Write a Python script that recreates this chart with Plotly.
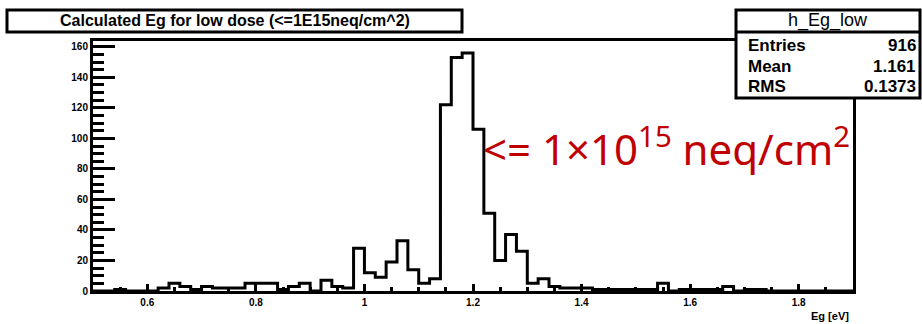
import plotly.graph_objects as go

# ---- data ----
x_min = 0.5
x_max = 1.9
bin_width = 0.02
counts = [0, 0, 1, 0, 0, 0, 2, 5, 3, 1,
          3, 2, 2, 2, 5, 5, 5, 1, 3, 5,
          0, 7, 3, 2, 28, 12, 9, 19, 33, 14,
          5, 8, 122, 153, 156, 106, 51, 20, 37, 26,
          5, 8, 3, 2, 2, 2, 1, 1, 1, 1,
          1, 1, 5, 0, 1, 1, 1, 1, 3, 0,
          1, 1, 0, 0, 0, 0, 0, 0, 0, 0]
x_ticks = [0.6, 0.8, 1.0, 1.2, 1.4, 1.6, 1.8]
x_tick_labels = ["0.6", "0.8", "1", "1.2", "1.4", "1.6", "1.8"]
y_ticks = [0, 20, 40, 60, 80, 100, 120, 140, 160]
title_text = "Calculated Eg for low dose (<=1E15neq/cm^2)"
stats_name = "h_Eg_low"
stats_rows = [("Entries", "916"), ("Mean", "1.161"), ("RMS", "0.1373")]
x_title = "Eg [eV]"
note_text = "<= 1×10<sup>15</sup> neq/cm<sup>2</sup>"

# ---- step outline built from the bins ----
edges = [x_min + i * bin_width for i in range(len(counts) + 1)]
step_x = [edges[0]] + edges[:-1] + [edges[-1], edges[-1]]
step_y = [0] + counts + [counts[-1], 0]

W, H = 922, 324
L, R, T, B = 93, 853, 41, 291


def xp(px):
    return (px - L) / (R - L)


def yp(py):
    return (B - py) / (B - T)


fig = go.Figure()
fig.add_trace(go.Scatter(x=step_x, y=step_y, mode="lines",
                         line=dict(color="black", width=3, shape="hv"),
                         hoverinfo="skip", showlegend=False))

tickfont = dict(family="Liberation Sans", size=10, color="black", weight="bold")
fig.update_xaxes(range=[x_min, x_max], showgrid=False, zeroline=False,
                 showline=True, linecolor="black", linewidth=3, mirror=True,
                 ticks="inside", ticklen=7, tickwidth=2.5, tickcolor="black",
                 tickvals=x_ticks, ticktext=x_tick_labels, tickfont=tickfont,
                 minor=dict(ticks="inside", dtick=0.05, tick0=0.5, ticklen=4,
                            tickwidth=2.5, tickcolor="black", showgrid=False))
fig.update_yaxes(range=[0, 1.05 * max(counts)], showgrid=False, zeroline=False,
                 showline=True, linecolor="black", linewidth=3, mirror=True,
                 ticks="inside", ticklen=22, tickwidth=2.5, tickcolor="black",
                 tickvals=y_ticks, tickfont=tickfont,
                 minor=dict(ticks="inside", dtick=5, ticklen=11,
                            tickwidth=2.5, tickcolor="black", showgrid=False))

shapes = [
    # title box
    dict(type="rect", xref="paper", yref="paper", x0=xp(7), x1=xp(462),
         y0=yp(32), y1=yp(10), line=dict(color="black", width=3),
         fillcolor="white", layer="above"),
    # stats box
    dict(type="rect", xref="paper", yref="paper", x0=xp(736), x1=xp(920),
         y0=yp(98), y1=yp(10), line=dict(color="black", width=3),
         fillcolor="white", layer="above"),
    dict(type="line", xref="paper", yref="paper", x0=xp(736), x1=xp(920),
         y0=yp(32), y1=yp(32), line=dict(color="black", width=3), layer="above"),
]

bold = dict(family="Liberation Sans", color="black", weight="bold")
annotations = [
    dict(text=title_text, xref="paper", yref="paper", x=xp(235), y=yp(21),
         xanchor="center", yanchor="middle", showarrow=False,
         font=dict(size=16, **bold)),
    dict(text=stats_name, xref="paper", yref="paper", x=xp(828), y=yp(21),
         xanchor="center", yanchor="middle", showarrow=False,
         font=dict(size=18, family="Liberation Sans", color="black")),
    dict(text=x_title, xref="paper", yref="paper", x=xp(851), y=yp(316),
         xanchor="right", yanchor="middle", showarrow=False,
         font=dict(size=11, **bold)),
    dict(text=note_text, xref="paper", yref="paper", x=xp(481), y=yp(146),
         xanchor="left", yanchor="middle", showarrow=False,
         font=dict(size=42, family="Noto Sans", color="#C00000")),
]
row_y = [45, 66, 86]
for (lab, val), ry in zip(stats_rows, row_y):
    annotations.append(dict(text=lab, xref="paper", yref="paper", x=xp(746), y=yp(ry),
                            xanchor="left", yanchor="middle", showarrow=False,
                            font=dict(size=17, **bold)))
    annotations.append(dict(text=val, xref="paper", yref="paper", x=xp(918), y=yp(ry),
                            xanchor="right", yanchor="middle", showarrow=False,
                            font=dict(size=17, **bold)))

fig.update_layout(width=W, height=H, margin=dict(l=L, r=W - R, t=T, b=H - B),
                  paper_bgcolor="white", plot_bgcolor="white",
                  shapes=shapes, annotations=annotations, showlegend=False)

fig.write_html("out.html")
